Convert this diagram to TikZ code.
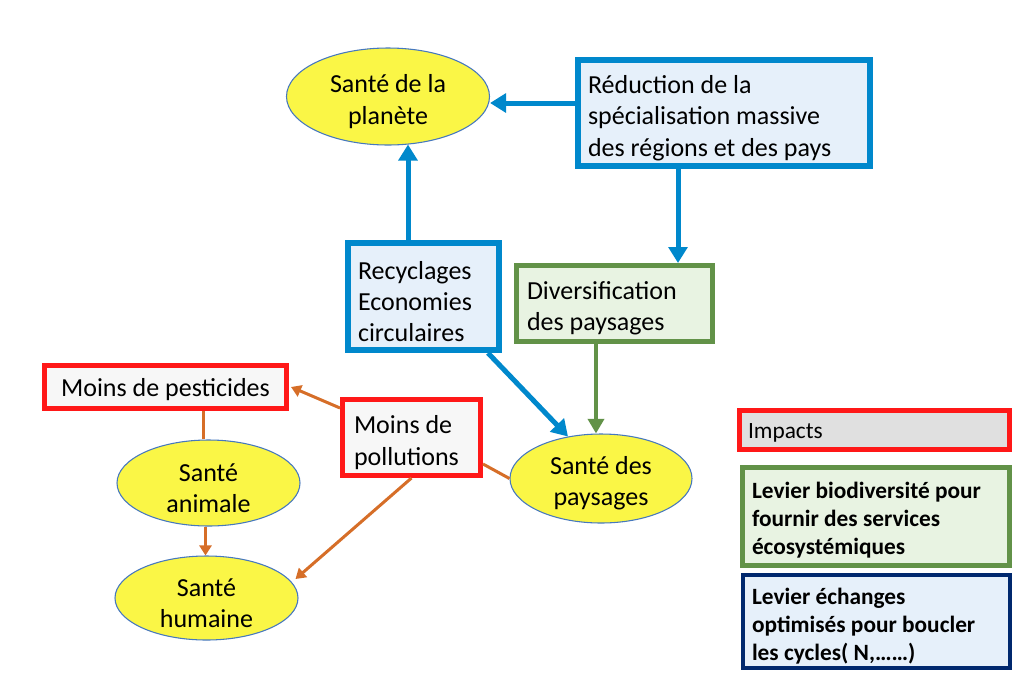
\documentclass[tikz,border=0pt]{standalone}
\usepackage{fontspec}
\setmainfont{Carlito}
\usetikzlibrary{arrows.meta,shapes.geometric,calc}
\definecolor{cblue}{RGB}{0,136,204}
\definecolor{cbluefill}{RGB}{230,240,250}
\definecolor{cgreen}{RGB}{98,146,72}
\definecolor{cgreenfill}{RGB}{232,243,226}
\definecolor{cred}{RGB}{255,24,24}
\definecolor{credfill}{RGB}{247,247,247}
\definecolor{cgrayfill}{RGB}{224,224,224}
\definecolor{cnavy}{RGB}{0,40,110}
\definecolor{corange}{RGB}{214,110,40}
\definecolor{cyellow}{RGB}{250,246,70}
\definecolor{cellb}{RGB}{70,120,190}
\begin{document}
\begin{tikzpicture}[x=0.75pt,y=-0.75pt,
  boxbase/.style={rectangle, inner sep=0pt},
  bluebox/.style={boxbase, draw=cblue, line width=4.5pt, fill=cbluefill},
  greenbox/.style={boxbase, draw=cgreen, line width=3.75pt, fill=cgreenfill},
  redbox/.style={boxbase, draw=cred, line width=3.75pt, fill=credfill},
  legbox/.style={rectangle, inner sep=0pt, line width=3pt},
  ell/.style={ellipse, draw=cellb, line width=0.8pt, fill=cyellow, inner sep=0pt},
  txt/.style={inner sep=0pt, align=flush left, yshift=-3.75pt, font=\fontsize{19.5}{23.5}\selectfont},
  ctxt/.style={inner sep=0pt, align=center, yshift=-3.75pt, font=\fontsize{19.5}{23.5}\selectfont},
  ltxt/.style={inner sep=0pt, align=flush left, yshift=-3pt, font=\fontsize{17.5}{21}\selectfont\bfseries},
  barrow/.style={draw=cblue, line width=3.75pt, -{Triangle[length=12pt,width=14pt]}},
  garrow/.style={draw=cgreen, line width=3pt, -{Triangle[length=11pt,width=12pt]}},
  oarrow/.style={draw=corange, line width=2.25pt, -{Triangle[length=7.5pt,width=9pt]}},
  oline/.style={draw=corange, line width=2.25pt}
]
\useasboundingbox (0,0) rectangle (1022,676);
\fill[white] (0,0) rectangle (1022,676);

% ellipses
\node[ell, minimum width=152.25pt, minimum height=72.75pt,
  label={[ctxt]center:{Santé de la\\planète}}] (plan) at (388,96.5) {};
\node[ell, minimum width=136.5pt, minimum height=66.75pt,
  label={[ctxt]center:{Santé des\\paysages}}] (pays) at (601,478.5) {};
\node[ell, minimum width=137.25pt, minimum height=64.5pt,
  label={[ctxt]center:{Santé\\animale}}] (ani) at (208.5,483) {};
\node[ell, minimum width=137.25pt, minimum height=63pt,
  label={[ctxt]center:{Santé\\humaine}}] (hum) at (206.5,598) {};

% boxes
\node[bluebox, minimum width=219pt, minimum height=79.5pt,
  label={[txt, text width=204pt]center:{Réduction de la\\spécialisation massive\\des régions et des pays}}] (red) at (724,113) {};
\node[bluebox, minimum width=113.25pt, minimum height=80.25pt,
  label={[txt, text width=98.25pt]center:{Recyclages\\Economies\\circulaires}}] (rec) at (423.5,296.5) {};
\node[greenbox, minimum width=147pt, minimum height=57pt,
  label={[txt, text width=131.25pt]center:{Diversification\\des paysages}}] (div) at (614.5,303.5) {};
\node[redbox, minimum width=103.5pt, minimum height=57pt,
  label={[txt, text width=86.25pt]center:{Moins de\\pollutions}}] (poll) at (411.5,437.5) {};
\node[redbox, minimum width=181.5pt, minimum height=32.25pt,
  label={[ctxt, yshift=1.5pt]center:{Moins de pesticides}}] (pest) at (165.5,387) {};

% legend
\node[legbox, draw=cred, line width=3.75pt, fill=cgrayfill, minimum width=202.5pt, minimum height=29.25pt,
  label={[txt, text width=189.75pt, yshift=1.5pt, font=\fontsize{17.5}{20}\selectfont]center:{Impacts}}] (imp) at (874.5,430) {};
\node[legbox, draw=cgreen, line width=3.75pt, fill=cgreenfill, minimum width=200.25pt, minimum height=73.5pt,
  label={[ltxt, text width=186pt]center:{Levier biodiversité pour\\fournir des services\\écosystémiques}}] (lev1) at (876,516.5) {};
\node[legbox, draw=cnavy, fill=cbluefill, minimum width=200.25pt, minimum height=69.75pt,
  label={[ltxt, text width=186pt, yshift=-1pt]center:{Levier échanges\\optimisés pour boucler\\les cycles( N,……)}}] (lev2) at (876,621) {};

% connectors
\draw[barrow] ($(red.west)+(0,-10)$) coordinate (a1) -- (a1 -| plan.east);
\draw[barrow] ($(red.south)+(-46,0)$) coordinate (a2) -- (a2 |- div.north);
\draw[barrow] ($(rec.north)+(-15.5,0)$) coordinate (a3) -- ($(a3 |- plan.south)+(0,-1)$);
\draw[barrow] ($(rec.south east)+(-14,0)$) -- ($(pays.center)+(-33,-42)$);
\draw[garrow] ($(div.south)+(-18.5,0)$) coordinate (a4) -- (a4 |- pays.north);
\draw[oarrow] ($(poll.north west)+(0,11)$) -- ($(pest.east)+(2,0)$);
\draw[oline] ($(poll.south east)+(0,-14)$) -- (pays.west);
\draw[oarrow] (poll.south) -- ($(hum.center)+(89,-19)$);
\draw[oline] ($(ani.north)+(-5,0)$) coordinate (a5) -- (a5 |- pest.south);
\draw[oarrow] ($(ani.south)+(-3,0)$) coordinate (a6) -- (a6 |- hum.north);
\end{tikzpicture}
\end{document}
